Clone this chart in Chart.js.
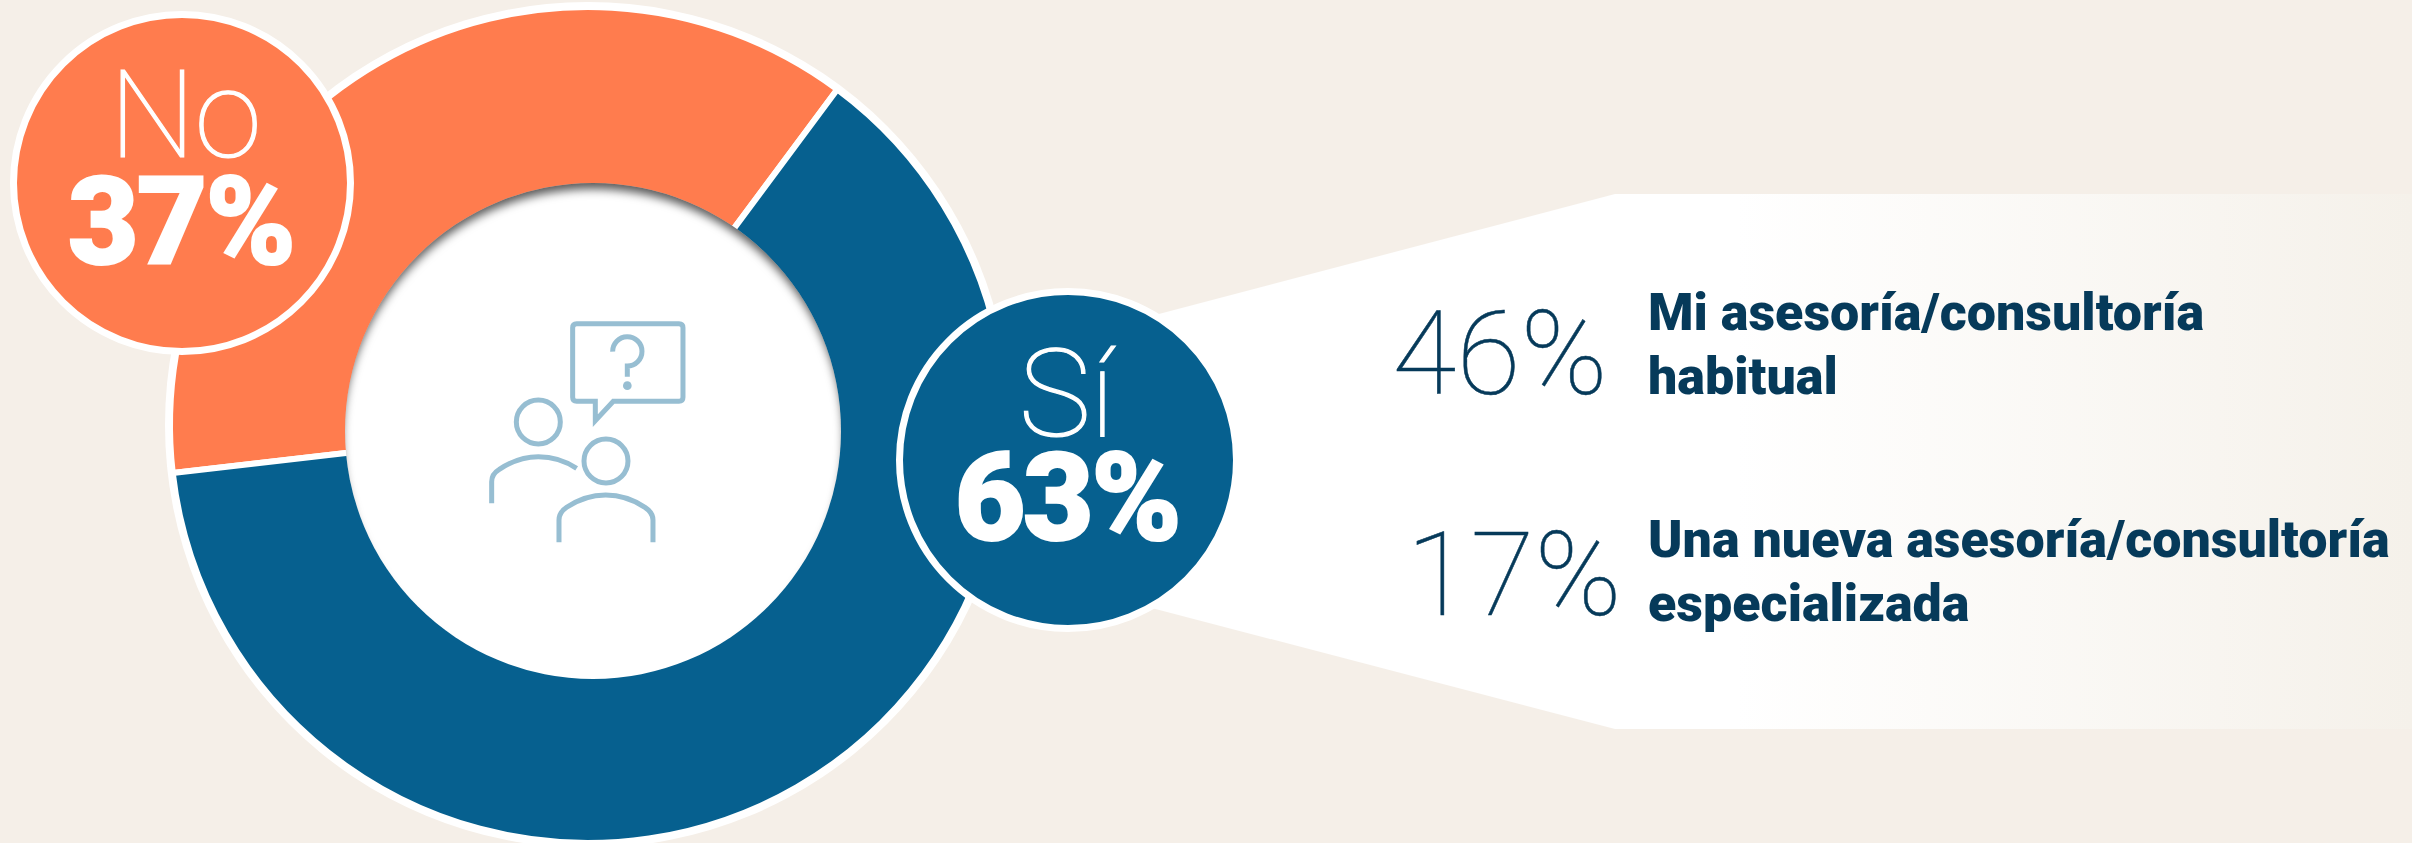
<!DOCTYPE html>
<html lang="es"><head><meta charset="utf-8">
<script src="https://cdn.jsdelivr.net/npm/chart.js@4"></script>
<style>
html,body{margin:0;padding:0;background:#f5efe8}
#stage{position:relative;width:2412px;height:843px;overflow:hidden;background:#f5efe8;font-family:Roboto,sans-serif}
#stage>*{position:absolute}
#callout,#icon{left:0;top:0}
#ring{left:165px;top:2px;width:846px;height:846px;border-radius:50%;background:#fff}
#chart{left:158px;top:-5px}
#hole{left:345px;top:183px;width:496px;height:496px;border-radius:50%;background:#fff;
 box-shadow:inset 0 9px 10px -3px rgba(0,0,0,.65)}
.bubble{width:330px;height:330px;border-radius:50%;border:7px solid #fff;box-sizing:content-box}
.t{white-space:nowrap;line-height:1}
.thin{font-weight:100;color:#fff;font-size:122px;-webkit-text-stroke:1.2px #fff}
.big{font-weight:900;color:#fff;font-size:122px;-webkit-text-stroke:2px #fff}
.pct{font-weight:100;color:#063a5a;font-size:117px;-webkit-text-stroke:.5px #063a5a}
.lab{font-weight:900;color:#063a5a;font-size:52px;line-height:64px;white-space:nowrap}
</style></head><body>
<div id="stage">
<svg id="callout" width="2412" height="843"><defs><linearGradient id="g" x1="0" x2="1" y1="0" y2="0">
<stop offset="0.5" stop-color="#fff"/><stop offset="1" stop-color="#f5f1ea"/></linearGradient></defs>
<polygon points="1060,340 1615,194 2412,194 2412,729 1615,729 1060,584" fill="url(#g)"/></svg>
<div id="ring"></div>
<canvas id="chart" width="860" height="860"></canvas>
<div id="hole"></div>
<svg id="icon" width="2412" height="843"><g transform="translate(440,290) scale(0.3333)" fill="none" stroke="#97bed2" stroke-width="15">
<path d="M466 334 H410 Q398 334 398 322 V113 Q398 101 410 101 H717 Q729 101 729 113 V322 Q729 334 717 334 H520 L466 392 Z"/>
<path d="M518 185 A44 44 0 1 1 562 228 V260"/><circle cx="562" cy="287" r="13" fill="#97bed2" stroke="none"/>
<circle cx="295" cy="396" r="66"/><path d="M155 640 V575 Q155 552 178 538 Q235 500 295 500 Q358 500 410 535"/>
<circle cx="498" cy="513" r="66"/><path d="M357 757 V690 Q357 668 380 652 Q435 615 497 615 Q560 615 615 652 Q639 668 639 690 V757"/>
</g></svg>
<div class="bubble" id="bNo" style="left:10px;top:11px;background:#ff7c4e"></div>
<div class="bubble" id="bSi" style="left:896px;top:288px;background:#06608f"></div>
<div id="texts"></div>
</div>
<script>
const categories = ["No", "Sí"];
const values = [37, 63];
const colors = ["#ff7c4e", "#06608f"];
const subValues = [46, 17];
const subLabels = [["Mi asesoría/consultoría", "habitual"], ["Una nueva asesoría/consultoría", "especializada"]];

new Chart(document.getElementById('chart'), {
  type: 'doughnut',
  data: { labels: categories, datasets: [{ data: values, backgroundColor: colors, borderColor: '#fff', borderWidth: 6, borderJoinStyle: 'round' }] },
  options: { responsive: false, animation: false, rotation: -96.6, cutout: 240, radius: 418,
    plugins: { legend: { display: false }, tooltip: { enabled: false } } }
});

const box = document.getElementById('texts');
function put(cls, text, cx, top, ls, sx) {
  const d = document.createElement('div');
  d.className = 't ' + cls; d.textContent = text;
  d.style.cssText = 'position:absolute;left:' + cx + 'px;top:' + top + 'px;transform:translate(-50%,0) scaleX(' + (sx || 1) + ');letter-spacing:' + (ls || 0) + 'px';
  box.appendChild(d);
}
put('thin', categories[0], 185, 55, -1);
put('big', values[0] + '%', 181, 162, -2);
put('thin', categories[1], 1066, 334, -1);
put('big', values[1] + '%', 1067, 438, -2.5);
put('pct', subValues[0] + '%', 1500, 296);
put('pct', subValues[1] + '%', 1514, 517);
const tops = [281, 508];
subLabels.forEach((lines, i) => {
  const d = document.createElement('div');
  d.className = 'lab'; d.style.cssText = 'position:absolute;left:1648px;top:' + tops[i] + 'px';
  d.innerHTML = lines.join('<br>');
  box.appendChild(d);
});
</script>
</body></html>
